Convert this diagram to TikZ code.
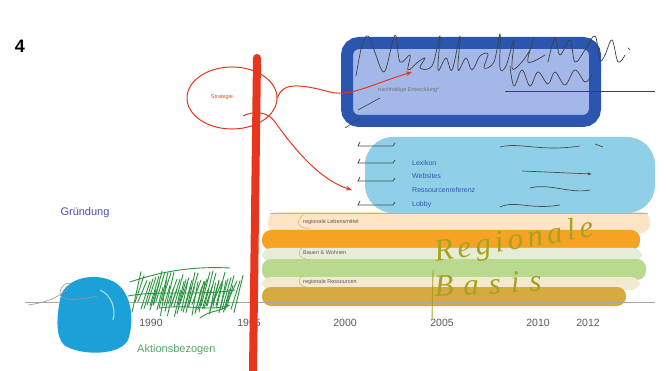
\documentclass[tikz,border=0pt]{standalone}
\usepackage{fontspec}
\setmainfont{Liberation Sans}
\newfontfamily\handfont{Liberation Serif}
\usetikzlibrary{shapes.geometric,arrows.meta}
\definecolor{dkblue}{HTML}{2B56B0}
\definecolor{ltblue}{HTML}{A3B8E8}
\definecolor{skyc}{HTML}{8FD0E8}
\definecolor{txtblue}{HTML}{3456B0}
\definecolor{redl}{HTML}{E8361E}
\definecolor{peach}{HTML}{FCE4C4}
\definecolor{orangeb}{HTML}{F6A223}
\definecolor{paleg}{HTML}{E6EDD6}
\definecolor{greenb}{HTML}{B9D98E}
\definecolor{palec}{HTML}{F3E9CF}
\definecolor{goldb}{HTML}{D5AA3E}
\definecolor{olivehand}{HTML}{A8A21E}
\definecolor{scrgreen}{HTML}{2A9440}
\definecolor{blobc}{HTML}{1BA0D8}
\definecolor{grtxt}{HTML}{5A5A5A}
\definecolor{grund}{HTML}{4E4EA8}
\pgfmathsetseed{7}
\begin{document}
\begin{tikzpicture}[x=1pt,y=-1pt,
  band/.style={rounded corners=9pt},
  small/.style={font=\fontsize{5.5}{6}\selectfont, text=grtxt, anchor=west, inner sep=0},
  year/.style={font=\fontsize{10.5}{11}\selectfont, text=grtxt, inner sep=0},
  listitem/.style={font=\fontsize{7}{8}\selectfont, text=txtblue, anchor=west, inner sep=0},
  scrib/.style={draw=black!75, line width=0.7pt, line cap=round, line join=round},
  redpen/.style={draw=redl, line width=1pt},
  hand/.style={text=olivehand, inner sep=0}
]
\useasboundingbox[fill=white] (0,0) rectangle (666,371);

% ---- bands ----
\fill[peach, band] (268,212) rectangle (650,233);
\draw[black!30, line width=0.4pt] (270,213) -- (648,213);
\fill[orangeb, band] (262,230) rectangle (640,250);
\fill[paleg, band] (262,248) rectangle (642,262);
\fill[greenb, band] (262,259) rectangle (646,280);
\fill[palec, band] (262,277) rectangle (640,290);
\fill[goldb, band] (262,287) rectangle (626,306);
\node[small] (lebens) at (303,222) {regionale Lebensmittel};
\node[small] (bauen) at (303,253) {Bauen \& Wohnen};
\node[small] (ressourcen) at (303,282) {regionale Ressourcen};
\draw[olivehand!70, line width=0.5pt] (303,215) .. controls (296,220) and (296,228) .. (310,229);
\draw[olivehand!70, line width=0.5pt] (303,247) .. controls (297,252) and (297,258) .. (310,260);
\draw[olivehand!70, line width=0.5pt] (303,275) .. controls (297,280) and (297,286) .. (310,288);

% ---- axis ----
\draw[black!35, line width=0.8pt] (25,302) -- (655,302);

% ---- cyan area ----
\fill[skyc, rounded corners=28pt] (365,137) rectangle (655,213);
\node[listitem] (lexikon) at (412,163) {Lexikon};
\node[listitem] (websites) at (412,176) {Websites};
\node[listitem] (ressref) at (412,190) {Ressourcenreferenz};
\node[listitem] (lobby) at (412,205) {Lobby};
\foreach \yy in {146,163,181,205} {
  \draw[black!70, line width=0.8pt] (360,\yy-4) -- (358,\yy) -- (393,\yy) -- (395,\yy-3);
}
\draw[black!70, line width=0.7pt] (500,147) .. controls (520,142) and (540,152) .. (580,146);
\draw[black!70, line width=0.7pt, -{Latex[length=4pt]}] (522,171) -- (592,174);
\draw[black!70, line width=0.7pt] (530,188) .. controls (550,183) and (570,194) .. (590,190);
\draw[black!70, line width=0.7pt] (500,207) .. controls (515,200) and (530,210) .. (560,205);
\draw[black!70, line width=0.7pt] (595,144) -- (603,147);

% ---- dark blue box ----
\draw[dkblue, fill=ltblue, line width=12pt, rounded corners=12pt] (347,43) rectangle (595,121);
\node[small, text=black!55] (nachhaltig) at (378,90) {nachhaltige Entwicklung*};
\draw[black!75, line width=0.6pt] (505,91) -- (655,91);
\draw[black!75, line width=0.6pt] (358,110) -- (380,98);
\draw[black!75, line width=0.6pt] (345,128) -- (360,118);

% handwriting scribbles at top
\draw[scrib] plot[smooth, tension=0.6] coordinates {(356,76) (362,45) (368,36) (374,50) (384,72) (392,44) (396,36) (400,62) (410,55) (408,70) (418,62) (425,58) (420,68) (432,66) (440,36) (438,70) (446,58) (452,70) (460,36) (458,70) (466,58) (472,70) (480,56) (488,54) (484,68) (494,62) (500,34) (500,68) (506,66) (514,40) (512,68) (520,64) (530,50) (534,38) (528,62) (545,55)};
\draw[scrib] plot[smooth, tension=0.6] coordinates {(548,62) (555,38) (560,55) (570,40) (575,62) (585,50) (595,36) (600,60) (605,55) (612,40) (618,62) (625,55)};
\draw[scrib] plot[smooth, tension=0.6] coordinates {(510,66) (514,86) (522,70) (530,86) (538,72) (548,84) (555,72) (565,85) (575,70) (585,82) (592,75)};
\draw[scrib] (628,48) -- (630,50);

% ---- left part ----
\node[font=\bfseries\fontsize{18}{18}\selectfont, inner sep=0] (four) at (20,46) {4};
\node[font=\fontsize{11}{12}\selectfont, text=grund, inner sep=0] (gruendung) at (85,213) {Gründung};

% cyan blob
\fill[blobc] (60,300) .. controls (62,280) and (90,272) .. (110,280)
  .. controls (132,288) and (135,320) .. (128,340)
  .. controls (120,356) and (80,356) .. (64,345)
  .. controls (55,336) and (57,315) .. (60,300) -- cycle;
\draw[white!70!blobc, line width=1pt] (100,290) .. controls (112,295) and (116,310) .. (113,320);
\draw[black!40, line width=0.6pt] (28,305) .. controls (50,302) and (60,296) .. (68,288) .. controls (74,280) and (62,282) .. (60,292) .. controls (58,302) and (80,300) .. (98,296);

% green hatching
\begin{scope}[scrgreen, line width=0.9pt, line cap=round]
\foreach \i in {0,...,34} {
  \pgfmathsetmacro{\xa}{132+\i*3}
  \pgfmathsetmacro{\ya}{300+rnd*14}
  \pgfmathsetmacro{\yb}{270+rnd*12}
  \draw (\xa,\ya) -- (\xa+9,\yb);
}
\foreach \i in {0,...,22} {
  \pgfmathsetmacro{\xa}{150+\i*3.5}
  \pgfmathsetmacro{\ya}{305+rnd*14}
  \pgfmathsetmacro{\yb}{280+rnd*10}
  \draw (\xa,\ya) -- (\xa+6,\yb);
}
\draw (130,282) .. controls (160,272) and (190,266) .. (230,268);
\draw (128,296) .. controls (160,290) and (200,296) .. (235,290);
\draw (160,308) .. controls (190,304) and (210,312) .. (230,305);
\draw (200,318) .. controls (210,310) and (220,312) .. (228,306);
\end{scope}

% years
\node[year] (y1990) at (151,323) {1990};
\node[year] (y1995) at (249,323) {1995};
\node[year] (y2000) at (345,323) {2000};
\node[year] (y2005) at (442,323) {2005};
\node[year] (y2010) at (538,323) {2010};
\node[year] (y2012) at (588,323) {2012};

\node[font=\fontsize{11}{12}\selectfont, text=scrgreen!80!white, anchor=west, inner sep=0] (aktion) at (137,350) {Aktionsbezogen};

% ---- green handwriting ----
\node[hand, rotate=9, font={\handfont\itshape\fontsize{31}{31}\selectfont\addfontfeature{LetterSpace=14}}] (regionale) at (514,242) {Regionale};
\node[hand, rotate=3, font={\handfont\itshape\fontsize{31}{31}\selectfont\addfontfeature{LetterSpace=32}}] (basis) at (488,284) {Basis};
\draw[olivehand, line width=0.9pt] (433,270) -- (432,320);

% ---- red line and strategy ----
\draw[redl, line width=8pt, line cap=round] (257,58) -- (253,371);
\node[ellipse, draw=redl, line width=1pt, minimum width=90pt, minimum height=62pt] (strat) at (232,98) {};
\node[font=\fontsize{5.5}{6}\selectfont, text=redl!70!orange, inner sep=0] (strattxt) at (222,97) {Strategie};
\coordinate (t1) at (412,72);
\coordinate (t2) at (352,190);
\draw[redpen, -{Stealth[length=6pt]}] (strat.east) .. controls (282,82) and (300,84) .. (330,92)
  .. controls (350,97) and (370,85) .. (t1);
\draw[redpen, -{Stealth[length=6pt]}] (243,116) .. controls (255,110) and (268,112) .. (275,122)
  .. controls (295,150) and (320,180) .. (t2);
\end{tikzpicture}
\end{document}
